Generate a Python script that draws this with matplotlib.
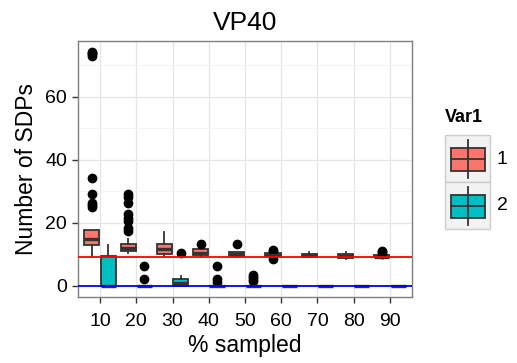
import numpy as np
import matplotlib.pyplot as plt
from matplotlib.patches import Rectangle

plt.rcParams['font.family'] = ['Liberation Sans', 'DejaVu Sans']

# -----------------------------
# data
# -----------------------------
pct = [10, 20, 30, 40, 50, 60, 70, 80, 90]

# Var1 = 1
v1_q1 = [13.0, 10.9, 10.1, 9.8, 9.3, 9.5, 9.1, 8.8, 9.0]
v1_med = [14.8, 12.0, 11.6, 10.5, 10.0, 9.8, 9.6, 9.3, 9.2]
v1_q3 = [17.8, 13.3, 13.2, 11.6, 10.7, 10.3, 10.2, 9.9, 9.6]
v1_lo = [9.3, 10.5, 9.5, 9.3, 9.0, 9.0, 9.0, 8.6, 8.8]
v1_hi = [17.8, 14.8, 16.9, 11.6, 10.7, 10.4, 10.7, 10.6, 9.8]
v1_out = [[73.0, 73.5, 74.0, 74.3, 34.2, 29.1, 26.3, 25.6, 25.0],
          [29.2, 28.0, 26.2, 22.9, 21.5, 20.4, 18.3, 17.2],
          [],
          [13.3],
          [13.2],
          [11.3, 11.0, 8.5],
          [],
          [],
          [11.0, 10.6, 10.2]]

# Var1 = 2
v2_q1 = [0, 0, 0, 0, 0, 0, 0, 0, 0]
v2_med = [0, 0, 1.0, 0, 0, 0, 0, 0, 0]
v2_q3 = [9.3, 0, 2.1, 0, 0, 0, 0, 0, 0]
v2_lo = [0, 0, 0, 0, 0, 0, 0, 0, 0]
v2_hi = [13.0, 0, 3.0, 0, 0, 0, 0, 0, 0]
v2_out = [[], [6.1, 2.1], [10.3], [6.1, 2.0, 1.2], [3.3, 2.6, 2.0, 1.5],
          [], [], [], []]

red_line = 9.0
blue_line = 0.0

col1 = '#F8766D'
col2 = '#00BFC4'
edge = '#333333'

# -----------------------------
# plot
# -----------------------------
fig = plt.figure(figsize=(5.17, 3.63), dpi=100)
ax = fig.add_axes([78.3 / 517, 1 - 297.3 / 363, (411.7 - 78.3) / 517, (297.3 - 40.7) / 363])

x = np.arange(1, len(pct) + 1)


def stats(q1, med, q3, lo, hi, out):
    return [dict(q1=a, med=b, q3=c, whislo=d, whishi=e, fliers=f)
            for a, b, c, d, e, f in zip(q1, med, q3, lo, hi, out)]


for st, off, col in [(stats(v1_q1, v1_med, v1_q3, v1_lo, v1_hi, v1_out), -0.225, col1),
                     (stats(v2_q1, v2_med, v2_q3, v2_lo, v2_hi, v2_out), 0.225, col2)]:
    ax.bxp(st, positions=x + off, widths=0.42, patch_artist=True, showcaps=False,
           boxprops=dict(facecolor=col, edgecolor=edge, linewidth=1.3),
           medianprops=dict(color=edge, linewidth=2.4),
           whiskerprops=dict(color=edge, linewidth=1.3),
           flierprops=dict(marker='o', markerfacecolor='black', markeredgecolor='black',
                           markersize=6),
           manage_ticks=False, zorder=3)

ax.axhline(red_line, color='red', linewidth=1.3, zorder=4)
ax.axhline(blue_line, color='blue', linewidth=1.3, zorder=4)

ax.set_xlim(0.4, 9.6)
ax.set_ylim(-3.7, 77.8)
ax.set_xticks(x)
ax.set_xticklabels([str(p) for p in pct])
ax.set_yticks([0, 20, 40, 60])
ax.set_yticks([10, 30, 50, 70], minor=True)
ax.grid(True, which='major', color='#E5E5E5', linewidth=0.9, zorder=0)
ax.grid(True, which='minor', axis='y', color='#F2F2F2', linewidth=0.6, zorder=0)
ax.set_axisbelow(True)
for s in ax.spines.values():
    s.set_color('#7F7F7F')
    s.set_linewidth(1.0)
ax.tick_params(which='major', length=4, width=1, color='#333333', labelsize=14,
               labelcolor='black', pad=4)
ax.tick_params(axis='x', which='major', pad=7)
ax.tick_params(which='minor', length=0)

ax.set_title('VP40', fontsize=19, pad=8)
ax.set_xlabel('% sampled', fontsize=16.5, labelpad=3)
ax.set_ylabel('Number of SDPs', fontsize=16.5, labelpad=5)

# -----------------------------
# legend
# -----------------------------
lg = fig.add_axes([0, 0, 1, 1], facecolor='none')
lg.set_xlim(0, 517)
lg.set_ylim(363, 0)
lg.axis('off')
lg.text(445, 118, 'Var1', fontsize=13, fontweight='bold', va='center', ha='left')
for i, (col, lab) in enumerate([(col1, '1'), (col2, '2')]):
    top = 135 + i * 47
    lg.add_patch(Rectangle((445, top), 45, 47, facecolor='#F2F2F2', edgecolor='#CCCCCC',
                           linewidth=1))
    lg.plot([467.5, 467.5], [top + 5, top + 43], color=edge, linewidth=1.3)
    lg.add_patch(Rectangle((451, top + 12.5), 34, 23, facecolor=col, edgecolor=edge,
                           linewidth=1.3))
    lg.plot([451, 485], [top + 24, top + 24], color=edge, linewidth=1.3)
    lg.text(497, top + 24, lab, fontsize=14, va='center', ha='left')

fig.savefig('out.png', dpi=100)
